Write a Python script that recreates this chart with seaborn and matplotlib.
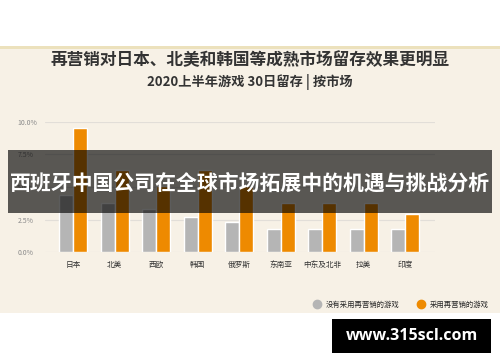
import numpy as np
import pandas as pd
import seaborn as sns
import matplotlib.pyplot as plt
from matplotlib.patches import Rectangle
from matplotlib.lines import Line2D

# data (30-day retention, %)
markets = ['日本', '北美', '西欧', '韩国', '俄罗斯', '东南亚', '中东及北非', '拉美', '印度']
no_remarketing = [4.4, 3.8, 3.35, 2.7, 2.3, 1.8, 1.8, 1.75, 1.75]
with_remarketing = [9.5, 6.3, 5.1, 6.3, 5.1, 3.8, 3.8, 3.8, 2.95]
series_names = ['没有采用再营销的游戏', '采用再营销的游戏']
yticks = [0, 2.5, 5, 7.5, 10]
ytick_labels = ['0.0%', '2.5%', '5.0%', '7.5%', '10.0%']

title = '再营销对日本、北美和韩国等成熟市场留存效果更明显'
subtitle = '2020上半年游戏 30日留存 | 按市场'
banner = '西班牙中国公司在全球市场拓展中的机遇与挑战分析'
site = 'www.315scl.com'

df = pd.DataFrame({'市场': markets * 2,
                   '留存': no_remarketing + with_remarketing,
                   '类型': [series_names[0]] * len(markets) + [series_names[1]] * len(markets)})

gray = '#b5b5b5'
orange = '#ee8a00'

sns.set_theme(style='white')
plt.rcParams['font.family'] = ['Noto Sans CJK SC', 'DejaVu Sans']

W, H = 500, 362
fig = plt.figure(figsize=(5, 3.62), dpi=100)
fig.patch.set_facecolor('white')

# cream background panel
fig.patches.append(Rectangle((0, 1 - 313 / H), 1, (313 - 46) / H, transform=fig.transFigure,
                             facecolor='#f7f1e6', edgecolor='none', zorder=-2))
fig.patches.append(Rectangle((0, 1 - 49 / H), 1, 3 / H, transform=fig.transFigure,
                             facecolor='#ece1bc', edgecolor='none', zorder=-1))

ax = fig.add_axes([45 / W, 1 - 252.3 / H, 390 / W, 130.6 / H])
ax.set_facecolor('none')
sns.barplot(data=df, x='市场', y='留存', hue='类型', palette=[gray, orange],
            width=0.675, gap=0, saturation=1, errorbar=None, legend=False, ax=ax)

ax.set_ylim(0, 10)
ax.set_xlim(-0.68, 8.72)
ax.set_yticks(yticks)
ax.set_yticklabels(ytick_labels, fontsize=5, color='#8a8a8a')
ax.yaxis.grid(True, color='#e2ded8', lw=0.8)
ax.set_axisbelow(True)
for s in ax.spines.values():
    s.set_visible(False)
ax.tick_params(axis='y', length=0, pad=20)
for t in ax.get_yticklabels():
    t.set_ha('left')
ax.tick_params(axis='x', length=0, pad=6, labelsize=5.5, labelcolor='#333333')
ax.set_xlabel('')
ax.set_ylabel('')

fig.text(0.5, 1 - 60 / H, title, ha='center', va='center', fontsize=12,
         fontweight='bold', color='#333333')
fig.text(0.5, 1 - 82 / H, subtitle, ha='center', va='center', fontsize=9.5,
         fontweight='bold', color='#333333')

handles = [Line2D([], [], marker='o', ls='', markersize=6, markerfacecolor=c, markeredgecolor=c)
           for c in [gray, orange]]
fig.legend(handles, series_names, loc='center right', bbox_to_anchor=(495 / W, 1 - 305 / H),
           ncol=2, frameon=False, fontsize=5.3, handletextpad=0.6, columnspacing=2.5,
           handlelength=1)

# dark overlay banner
fig.patches.append(Rectangle((8 / W, 1 - 213 / H), 484 / W, 63 / H, transform=fig.transFigure,
                             facecolor='black', alpha=0.64, edgecolor='none', zorder=5))
fig.text(0.5, 1 - 183 / H, banner, ha='center', va='center', fontsize=15,
         fontweight='bold', color='white', zorder=6)

# watermark box
fig.patches.append(Rectangle((332 / W, 1 - 353 / H), 159 / W, 34 / H, transform=fig.transFigure,
                             facecolor='black', edgecolor='none', zorder=5))
fig.text(411.5 / W, 1 - 336 / H, site, ha='center', va='center', fontsize=11.5,
         fontweight='bold', color='white', family=['Open Sans', 'DejaVu Sans'], zorder=6)

fig.savefig('out.png', dpi=100)
